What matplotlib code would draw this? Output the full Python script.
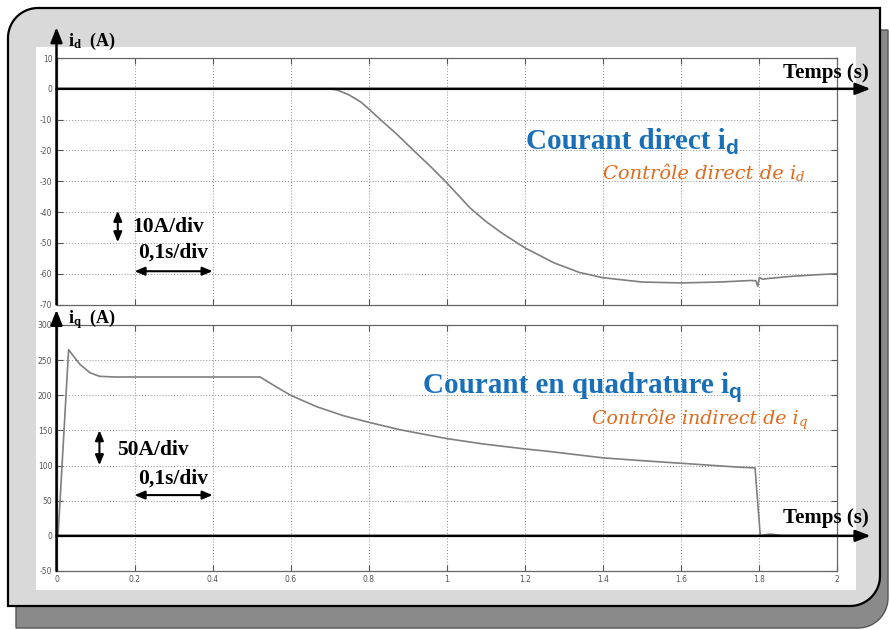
import numpy as np
import matplotlib
matplotlib.use("Agg")
import matplotlib.pyplot as plt
from matplotlib.path import Path
from matplotlib.patches import PathPatch, Rectangle
from matplotlib.transforms import Affine2D, blended_transform_factory

plt.rcParams['mathtext.fontset'] = 'custom'
plt.rcParams['mathtext.rm'] = 'Liberation Serif'
plt.rcParams['mathtext.bf'] = 'Liberation Serif:bold'
plt.rcParams['mathtext.it'] = 'Liberation Serif:italic'
plt.rcParams['mathtext.sf'] = 'Liberation Sans:bold'
plt.rcParams['axes.unicode_minus'] = False

# ---------------- data ----------------
id_t = [0, 0.70, 0.72, 0.75, 0.78, 0.80, 0.83, 0.87, 0.915, 0.96, 1.0, 1.06, 1.10, 1.14,
        1.2, 1.275, 1.34, 1.4, 1.5, 1.6, 1.7, 1.78, 1.792, 1.797, 1.801, 1.81, 1.82, 1.88,
        1.94, 2.0]
id_v = [0, 0, -0.4, -2.0, -4.3, -6.5, -10, -14.5, -20, -25.4, -30.5, -38.7, -43, -46.7,
        -51.6, -56.5, -59.6, -61.3, -62.7, -63, -62.7, -62.2, -62.3, -64.1, -61.3, -61.8,
        -61.6, -60.9, -60.4, -60]

iq_t = [0, 0.004, 0.031, 0.043, 0.06, 0.086, 0.11, 0.15, 0.3, 0.45, 0.522, 0.56, 0.6,
        0.667, 0.735, 0.8, 0.88, 1.0, 1.094, 1.2, 1.264, 1.4, 1.5, 1.6, 1.7, 1.753, 1.79,
        1.8035, 1.815, 1.83, 1.845, 1.86, 2.0]
iq_v = [0, 0, 265, 256, 244, 232, 227, 226, 226, 226, 226, 213, 200,
        183.7, 171, 161.6, 151, 138.4, 130.7, 123.7, 120, 111, 107, 103.3, 99.5, 97.6, 96.7,
        0, 1.5, 2.5, 1.5, 0.5, 0.5]

x_ticks = [0, 0.2, 0.4, 0.6, 0.8, 1.0, 1.2, 1.4, 1.6, 1.8, 2.0]
x_ticklabels = ['0', '0.2', '0.4', '0.6', '0.8', '1', '1.2', '1.4', '1.6', '1.8', '2']
id_ticks = [10, 0, -10, -20, -30, -40, -50, -60, -70]
iq_ticks = [300, 250, 200, 150, 100, 50, 0, -50]

# ---------------- figure ----------------
W, H = 890, 630
fig = plt.figure(figsize=(W / 100, H / 100), dpi=100)
fig.patch.set_facecolor('white')
pix = Affine2D().scale(1 / W, -1 / H).translate(0, 1) + fig.transFigure


def diag_round_rect(x0, y0, x1, y1, r):
    pts = []
    a = np.linspace(np.pi, 1.5 * np.pi, 20)
    pts += list(zip(x0 + r + r * np.cos(a), y0 + r + r * np.sin(a)))
    pts.append((x1, y0))
    a = np.linspace(0, 0.5 * np.pi, 20)
    pts += list(zip(x1 - r + r * np.cos(a), y1 - r + r * np.sin(a)))
    pts.append((x0, y1))
    pts.append(pts[0])
    return Path(pts, closed=True)


shadow = PathPatch(diag_round_rect(16, 30, 888, 628, 30), facecolor='#8a8a8a',
                   edgecolor='#555555', lw=1, transform=pix, zorder=0)
panel = PathPatch(diag_round_rect(8, 8, 880, 606, 30), facecolor='#d9d9d9',
                  edgecolor='black', lw=1.6, transform=pix, zorder=0.1)
white = Rectangle((36, 47), 820, 543, facecolor='white', edgecolor='none',
                  transform=pix, zorder=0.2)
fig.patches.extend([shadow, panel, white])

ax1 = fig.add_axes([56.5 / W, 1 - 304.5 / H, 780.5 / W, 246.5 / H], zorder=5)
ax2 = fig.add_axes([56.5 / W, 1 - 571 / H, 780.5 / W, 246 / H], zorder=5)

grid_kw = dict(color='#8c8c8c', lw=0.7, linestyle=(0, (1, 2)))
for ax in (ax1, ax2):
    ax.set_facecolor('none')
    ax.set_xlim(0, 2)
    ax.set_xticks(x_ticks)
    ax.grid(True, **grid_kw)
    for s in ax.spines.values():
        s.set_color('#666666')
        s.set_linewidth(0.9)
    ax.tick_params(direction='in', length=4, width=0.8, color='#555555',
                   top=True, right=True, labelsize=5.5, labelcolor='#555555', pad=3)

ax1.set_ylim(-70, 10)
ax1.set_yticks(id_ticks)
ax1.set_xticklabels([])
ax2.set_ylim(-50, 300)
ax2.set_yticks(iq_ticks)
ax2.set_xticklabels(x_ticklabels)

ax1.plot(id_t, id_v, color='#7f7f7f', lw=1.2, zorder=3)
ax2.plot(iq_t, iq_v, color='#7f7f7f', lw=1.2, zorder=3)

for ax, tip in ((ax1, 1.125), (ax2, 1.062)):
    ax.annotate('', xy=(0, tip), xytext=(0, 0), xycoords='axes fraction',
                textcoords='axes fraction',
                arrowprops=dict(arrowstyle='-|>,head_length=0.9,head_width=0.35',
                                color='black', lw=1.8, shrinkA=0, shrinkB=0),
                annotation_clip=False, zorder=6)
    tr = blended_transform_factory(ax.transAxes, ax.transData)
    ax.annotate('', xy=(1.043, 0), xytext=(0, 0), xycoords=tr, textcoords=tr,
                arrowprops=dict(arrowstyle='-|>,head_length=0.9,head_width=0.35',
                                color='black', lw=1.8, shrinkA=0, shrinkB=0),
                annotation_clip=False, zorder=6)

serif = 'Liberation Serif'
fig.text(68 / W, 1 - 46 / H, r'i$_{\mathbf{d}}$  (A)', fontsize=13, fontweight='bold',
         family=serif, va='baseline', zorder=6)
fig.text(68 / W, 1 - 323 / H, r'i$_{\mathbf{q}}$  (A)', fontsize=13, fontweight='bold',
         family=serif, va='baseline', zorder=6)

ax1.text(1.862, 3.4, 'Temps (s)', fontsize=15, fontweight='bold', family=serif,
         va='baseline', clip_on=False)
ax2.text(1.862, 19, 'Temps (s)', fontsize=15, fontweight='bold', family=serif,
         va='baseline', clip_on=False)

blue = '#1a70b8'
orange = '#e0691c'
renderer = fig.canvas.get_renderer()


def text_with_sub(ax, x, y, main, sub, size, subsize, drop, gap, color, main_kw, sub_kw):
    t = ax.text(x, y, main, fontsize=size, color=color, va='baseline', **main_kw)
    bb = t.get_window_extent(renderer=renderer)
    x0, y0 = ax.transData.transform((x, y))
    fx = (bb.x1 + gap) / W
    fy = (y0 - drop) / H
    fig.text(fx, fy, sub, fontsize=subsize, color=color, va='baseline', zorder=6,
             **sub_kw)


blue_kw = dict(family=serif, fontweight='bold')
blue_sub = dict(family='Liberation Sans', fontweight='bold')
or_kw = dict(family='DejaVu Serif', fontstyle='italic')
or_sub = dict(family='DejaVu Serif', fontstyle='italic')

text_with_sub(ax1, 1.204, -19.4, 'Courant direct i', 'd', 21, 15, 5, -1, blue, blue_kw,
              blue_sub)
text_with_sub(ax1, 1.40, -29.3, 'Contrôle direct de i', 'd', 14, 9.5, 2, 0, orange, or_kw,
              or_sub)
text_with_sub(ax2, 0.939, 202.8, 'Courant en quadrature i', 'q', 21, 15, 5, -1, blue,
              blue_kw, blue_sub)
text_with_sub(ax2, 1.372, 158.7, 'Contrôle indirect de i', 'q', 13.7, 9.5, 2, 0, orange,
              or_kw, or_sub)

dbl = dict(arrowstyle='<|-|>,head_length=0.6,head_width=0.25', color='black', lw=1.5,
           shrinkA=0, shrinkB=0)
lab_kw = dict(fontsize=15.5, fontweight='bold', family=serif, va='baseline')
ax1.annotate('', xy=(0.157, -39.6), xytext=(0.157, -49.8), arrowprops=dbl)
ax1.text(0.193, -46.4, '10A/div', **lab_kw)
ax1.text(0.208, -54.8, '0,1s/div', **lab_kw)
ax1.annotate('', xy=(0.2, -59.2), xytext=(0.4, -59.2), arrowprops=dbl)
ax2.annotate('', xy=(0.11, 150.3), xytext=(0.11, 100.5), arrowprops=dbl)
ax2.text(0.156, 114.6, '50A/div', **lab_kw)
ax2.text(0.208, 75, '0,1s/div', **lab_kw)
ax2.annotate('', xy=(0.2, 58), xytext=(0.4, 58), arrowprops=dbl)

fig.savefig('out.png', dpi=100, facecolor='white')
